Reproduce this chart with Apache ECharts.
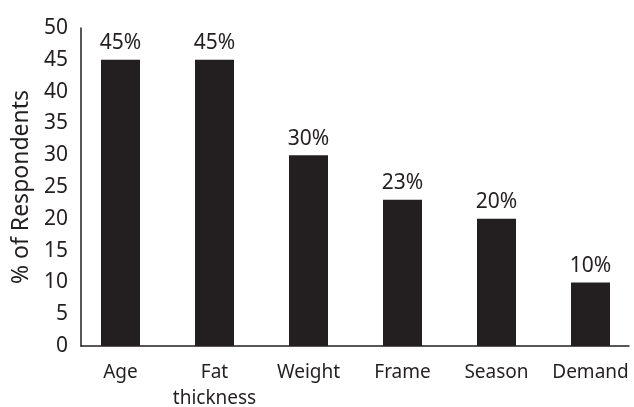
<!DOCTYPE html>
<html>
<head>
<meta charset="utf-8">
<script src="https://cdn.jsdelivr.net/npm/echarts@6/dist/echarts.min.js"></script>
<style>
  html, body { margin: 0; padding: 0; background: #fff; }
  #chart { width: 634px; height: 407px; }
</style>
</head>
<body>
<div id="chart"></div>
<script>
// Reasons cited for choosing an animal, share of respondents
const categories = ['Age', 'Fat\nthickness', 'Weight', 'Frame', 'Season', 'Demand'];
const percentages = [45, 45, 30, 23, 20, 10];
const yTicks = { min: 0, max: 50, interval: 5 };

const ink = '#231f20';
const font = 'Noto Sans';

const chart = echarts.init(document.getElementById('chart'));
chart.setOption({
  animation: false,
  textStyle: { fontFamily: font, color: ink },
  grid: [
    // bar area: category slots span slightly wider than the drawn axes
    { left: 73.5, width: 564, top: 28, bottom: 61, outerBoundsMode: 'none', containLabel: false },
    // frame grid carrying the visible axis lines and tick labels
    { left: 81, width: 548, top: 28, bottom: 61, outerBoundsMode: 'none', containLabel: false }
  ],
  xAxis: [
    {
      type: 'category', gridIndex: 0, data: categories,
      axisLine: { show: false }, axisTick: { show: false },
      axisLabel: { color: ink, fontSize: 19, fontFamily: font, margin: 14, lineHeight: 26, interval: 0 }
    },
    {
      type: 'value', gridIndex: 1, min: 0, max: 1,
      axisLine: { show: true, lineStyle: { color: ink, width: 1.5 } },
      axisTick: { show: false }, axisLabel: { show: false }, splitLine: { show: false }
    }
  ],
  yAxis: [
    {
      type: 'value', gridIndex: 0, min: yTicks.min, max: yTicks.max, interval: yTicks.interval,
      axisLine: { show: false }, axisTick: { show: false },
      axisLabel: { show: false }, splitLine: { show: false }
    },
    {
      type: 'value', gridIndex: 1, min: yTicks.min, max: yTicks.max, interval: yTicks.interval,
      name: '% of Respondents', nameLocation: 'middle', nameGap: 46,
      nameTextStyle: { color: ink, fontSize: 23, fontFamily: font },
      axisLine: { show: true, lineStyle: { color: ink, width: 1.5 } },
      axisTick: { show: false },
      axisLabel: { color: ink, fontSize: 21, fontFamily: font, margin: 13 },
      splitLine: { show: false }
    }
  ],
  series: [{
    type: 'bar', xAxisIndex: 0, yAxisIndex: 0,
    data: percentages, barWidth: 39,
    itemStyle: { color: ink },
    label: {
      show: true, position: 'top', distance: 6,
      formatter: p => p.value + '%',
      color: ink, fontSize: 21, fontFamily: font
    }
  }]
});
</script>
</body>
</html>
